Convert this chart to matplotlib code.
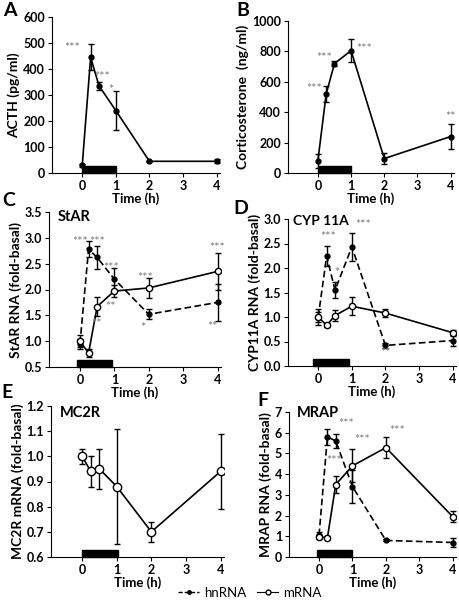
import matplotlib
matplotlib.use("Agg")
from matplotlib import pyplot as plt
from matplotlib.patches import Rectangle
from matplotlib.lines import Line2D
from matplotlib.ticker import FormatStrFormatter
import matplotlib.transforms as mtransforms
import numpy as np

plt.rcParams['font.family'] = ['Lato', 'DejaVu Sans']

times = [0, 0.25, 0.5, 1, 2, 4]

# A - ACTH
acth = [30, 445, 335, 240, 45, 45]
acth_err = [5, 50, 15, 75, 3, 8]
acth_stars = [(-0.3, 480, '***'), (0.6, 370, '***'), (0.85, 320, '*')]

# B - corticosterone
cort = [80, 520, 720, 805, 95, 240]
cort_err = [45, 50, 15, 75, 35, 80]
cort_stars = [(-0.1, 555, '***'), (0.2, 755, '***'), (1.4, 815, '***'), (4, 370, '**')]

# C - StAR
star_hn = [0.95, 2.78, 2.62, 2.2, 1.52, 1.75]
star_hn_err = [0.1, 0.15, 0.23, 0.22, 0.1, 0.35]
star_m = [1.0, 0.77, 1.67, 1.97, 2.03, 2.35]
star_m_err = [0.12, 0.08, 0.18, 0.12, 0.2, 0.35]
star_stars = [(0.0, 2.92, '***'), (0.5, 2.92, '***'), (0.9, 2.42, '***'),
              (0.47, 1.33, '**'), (0.88, 1.66, '**'), (1.9, 2.22, '***'),
              (1.84, 1.25, '*'), (4, 2.8, '***'), (3.85, 1.27, '**')]

# D - CYP11A
cyp_hn = [1.0, 2.24, 1.55, 2.43, 0.42, 0.52]
cyp_hn_err = [0.1, 0.2, 0.17, 0.28, 0.05, 0.12]
cyp_m = [1.0, 0.83, 1.03, 1.22, 1.08, 0.68]
cyp_m_err = [0.17, 0.04, 0.12, 0.18, 0.08, 0.06]
cyp_stars = [(0.3, 2.63, '***'), (0.55, 1.9, '*'), (1.35, 2.88, '***'), (2.0, 0.27, '**')]

# E - MC2R
mc2r = [1.0, 0.94, 0.95, 0.88, 0.70, 0.94]
mc2r_err = [0.03, 0.06, 0.08, 0.23, 0.04, 0.15]

# F - MRAP
mrap_hn = [1.05, 5.8, 5.6, 3.4, 0.8, 0.7]
mrap_hn_err = [0.15, 0.4, 0.35, 0.8, 0.05, 0.2]
mrap_m = [0.97, 0.93, 3.5, 4.4, 5.28, 1.95]
mrap_m_err = [0.1, 0.07, 0.4, 0.8, 0.5, 0.25]
mrap_stars = [(0.8, 6.4, '***'), (0.45, 4.65, '***'), (1.3, 5.65, '***'), (2.35, 6.1, '***')]

STAR_COLOR = '#7a7a7a'


def style_axes(ax, ylim, ystep, yfmt, ylabel, bar):
    ax.set_xlim(-0.9, 4.1)
    ax.set_ylim(*ylim)
    ax.set_xticks([0, 1, 2, 3, 4])
    ax.set_yticks(np.arange(ylim[0], ylim[1] + ystep / 2, ystep))
    ax.yaxis.set_major_formatter(FormatStrFormatter(yfmt))
    ax.spines['top'].set_visible(False)
    ax.spines['right'].set_visible(False)
    ax.tick_params(labelsize=9, length=3, width=0.8, pad=2)
    for lab in ax.get_xticklabels() + ax.get_yticklabels():
        lab.set_fontweight('bold')
    ax.set_xlabel('Time (h)', fontsize=9.5, fontweight='bold', labelpad=0)
    ax.set_ylabel(ylabel, fontsize=10, fontweight='bold', labelpad=2)
    trans = mtransforms.blended_transform_factory(ax.transData, ax.transAxes)
    ax.add_patch(Rectangle((bar[0], 0), bar[1] - bar[0], 0.045, transform=trans,
                           color='black', clip_on=False, zorder=5))


def plot_hn(ax, y, err):
    ax.errorbar(times, y, yerr=err, color='black', ls='--', lw=1.2, dashes=(4, 2),
                marker='o', ms=3.5, mfc='black', capsize=2, elinewidth=1, capthick=1, zorder=3)


def plot_m(ax, y, err, ms=4.5):
    ax.errorbar(times, y, yerr=err, color='black', ls='-', lw=1.2,
                marker='o', ms=ms, mfc='white', mew=1, capsize=2, elinewidth=1, capthick=1, zorder=4)


def add_stars(ax, stars):
    for x, y, s in stars:
        ax.text(x, y, s, color=STAR_COLOR, fontsize=9, ha='center', va='center', zorder=6)


fig = plt.figure(figsize=(4.6, 6), dpi=100)
W, H = 460.0, 600.0


def make_ax(l, r, t, b):
    return fig.add_axes([l / W, 1 - b / H, (r - l) / W, (b - t) / H])


axA = make_ax(52, 220, 17, 173)
axB = make_ax(288, 454, 21, 173)
axC = make_ax(49, 221, 212, 367)
axD = make_ax(288, 456, 219, 366)
axE = make_ax(51, 224, 406, 557)
axF = make_ax(289, 456, 412, 557)

# A
axA.errorbar(times, acth, yerr=acth_err, color='black', lw=1.2, marker='o', ms=3.5,
             capsize=2, elinewidth=1, capthick=1, zorder=3)
style_axes(axA, (0, 600), 100, '%d', 'ACTH (pg/ml)', (0, 1))
add_stars(axA, acth_stars)

# B
axB.errorbar(times, cort, yerr=cort_err, color='black', lw=1.2, marker='o', ms=3.5,
             capsize=2, elinewidth=1, capthick=1, zorder=3)
style_axes(axB, (0, 1000), 200, '%d', 'Corticosterone  (ng/ml)', (0, 1))
add_stars(axB, cort_stars)

# C
plot_hn(axC, star_hn, star_hn_err)
plot_m(axC, star_m, star_m_err)
style_axes(axC, (0.5, 3.5), 0.5, '%.1f', 'StAR RNA (fold-basal)', (-0.09, 0.93))
add_stars(axC, star_stars)
axC.text(0.05, 1.01, 'StAR', transform=axC.transAxes, fontsize=10.5, fontweight='bold', va='top')

# D
plot_hn(axD, cyp_hn, cyp_hn_err)
plot_m(axD, cyp_m, cyp_m_err)
style_axes(axD, (0.0, 3.0), 0.5, '%.1f', 'CYP11A RNA (fold-basal)', (-0.15, 0.92))
add_stars(axD, cyp_stars)
axD.text(0.03, 1.03, 'CYP 11A', transform=axD.transAxes, fontsize=10, fontweight='bold', va='top')

# E
plot_m(axE, mc2r, mc2r_err, ms=6)
style_axes(axE, (0.6, 1.2), 0.1, '%.1f', 'MC2R mRNA (fold-basal)', (0, 1.04))
axE.text(0.05, 1.0, 'MC2R', transform=axE.transAxes, fontsize=10.5, fontweight='bold', va='top')

# F
plot_hn(axF, mrap_hn, mrap_hn_err)
plot_m(axF, mrap_m, mrap_m_err)
style_axes(axF, (0, 7), 1, '%d', 'MRAP RNA (fold-basal)', (-0.06, 1.0))
add_stars(axF, mrap_stars)
axF.text(0.05, 1.04, 'MRAP', transform=axF.transAxes, fontsize=10.5, fontweight='bold', va='top')

# panel letters
for lab, x, y in [('A', 3, 2), ('B', 236, 2), ('C', 2, 192), ('D', 233, 200),
                  ('E', 1, 384), ('F', 257, 392)]:
    fig.text(x / W, 1 - y / H, lab, fontsize=14, fontweight='bold', va='top', ha='left')

handles = [Line2D([], [], color='black', ls='--', lw=1, marker='o', ms=2.5, dashes=(3, 1.5)),
           Line2D([], [], color='black', ls='-', lw=0.8, marker='o', ms=3.5, mfc='white')]
fig.legend(handles, ['hnRNA', 'mRNA'], loc='center', bbox_to_anchor=(250 / W, 1 - 593 / H),
           ncol=2, frameon=False, fontsize=9.5, handlelength=1.6, handletextpad=0.4,
           columnspacing=0.8, borderpad=0)

fig.savefig('out.png', dpi=100)
